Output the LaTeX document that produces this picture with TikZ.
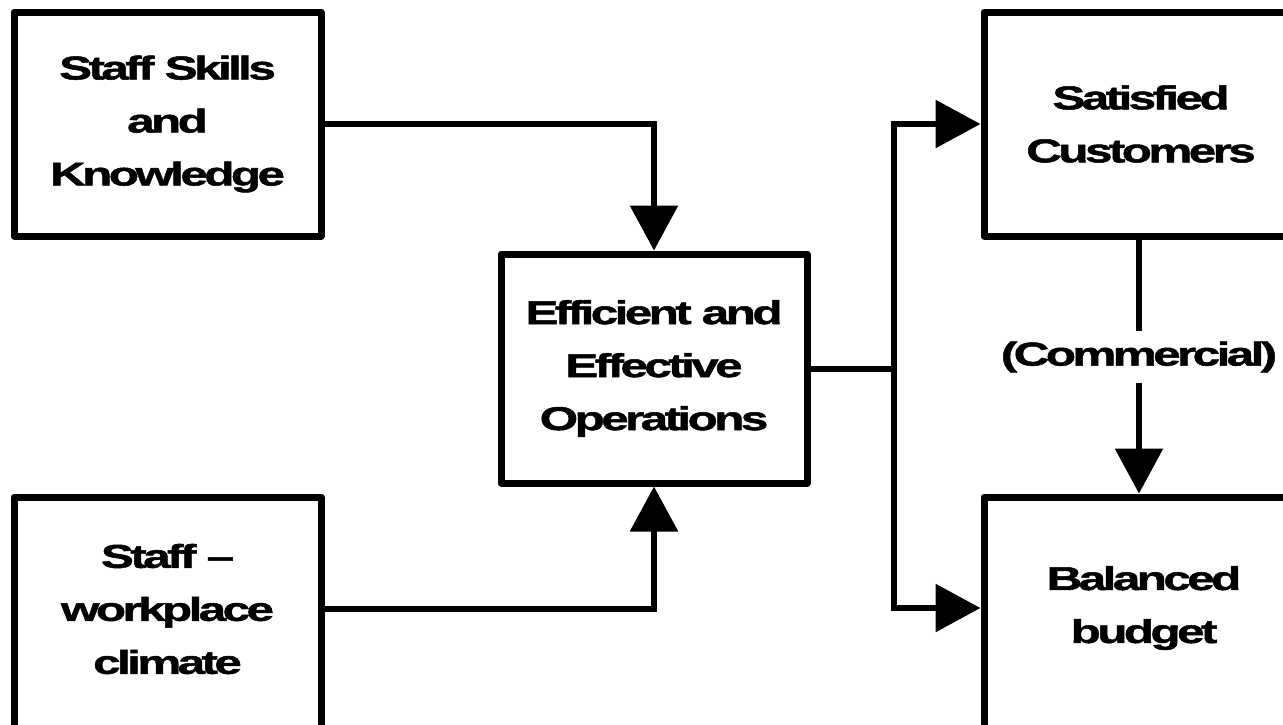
\documentclass[tikz,border=0pt]{standalone}
\usepackage{fontspec}
\usetikzlibrary{arrows.meta}
\newfontfamily\lblfont{Liberation Sans}[FakeStretch=1.5,LetterSpace=-11,FakeBold=1.5]
\begin{document}
\begin{tikzpicture}[x=1pt,y=-1pt,
  boxnode/.style={draw,line width=7pt,line join=round,inner sep=0pt},
  txt/.style={font=\lblfont\bfseries\fontsize{33}{53}\selectfont,align=center,inner sep=0pt},
  conn/.style={line width=6pt},
  arr/.style={conn,-{Triangle[length=45pt,width=47pt]}}]
  \useasboundingbox (0,0) rectangle (1283,724);
  \fill[white] (0,0) rectangle (1283,724);
  \clip (0,0) rectangle (1283,724);

  % boxes
  \node[boxnode,txt,minimum width=307pt,minimum height=224pt] (skills) at (167.5,124)
    {Staff Skills\\and\\Knowledge};
  \node[boxnode,minimum width=307pt,minimum height=303pt] (climate) at (167.5,648.5) {};
  \node[txt] (climatetxt) at (167.5,609) {Staff –\\workplace\\climate};
  \node[boxnode,txt,minimum width=306pt,minimum height=229pt] (ops) at (654,368.5)
    {Efficient and\\Effective\\Operations};
  \node[boxnode,txt,minimum width=314pt,minimum height=224pt] (cust) at (1141,124)
    {Satisfied\\Customers};
  \node[boxnode,minimum width=314pt,minimum height=303pt] (budget) at (1141,648.5) {};
  \node[txt] (budgettxt) at (1144,608) {Balanced\\budget};

  % inputs to operations
  \draw[arr] (skills.east) -| (ops.north);
  \draw[arr] (climatetxt -| climate.east) -| (ops.south);

  % outputs from operations
  \coordinate (bus) at (894,368.5);
  \draw[conn] (ops.east) -- (bus);
  \draw[arr] (bus) |- (cust.west);
  \draw[arr] (bus) |- (budgettxt -| budget.west);

  % customers to budget
  \node[txt,inner ysep=10pt] (comm) at (1139,357) {(Commercial)};
  \draw[conn] (comm |- cust.south) -- (comm.north);
  \draw[arr] (comm.south) -- (comm |- budget.north);
\end{tikzpicture}
\end{document}
